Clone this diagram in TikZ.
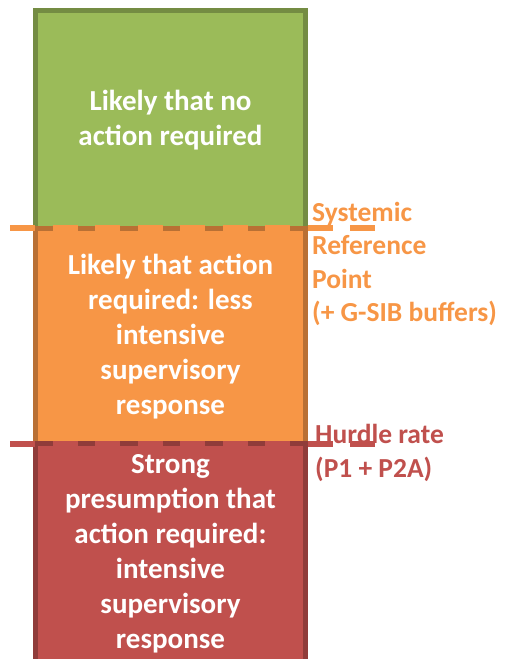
\documentclass[tikz,border=0pt]{standalone}
\usepackage{fontspec}
\setmainfont{Carlito}
\definecolor{greenfill}{HTML}{9BBB59}
\definecolor{greenedge}{HTML}{748C43}
\definecolor{orangefill}{HTML}{F79646}
\definecolor{orangeedge}{HTML}{B97034}
\definecolor{redfill}{HTML}{C0504D}
\definecolor{rededge}{HTML}{903C3A}
\tikzset{
  band/.style={line width=5pt},
  % multi-line nodes: the base anchor sits on the last line's baseline
  bandtext/.style={align=center, text=white, font=\fontsize{29}{35}\selectfont\bfseries, anchor=base, inner sep=0pt},
  sidetext/.style={align=left, font=\fontsize{27.5}{33.5}\selectfont\bfseries, anchor=base west, inner sep=0pt},
  threshold/.style={line width=6pt, dash pattern=on 25pt off 17.5pt},
}
\begin{document}
\begin{tikzpicture}[x=1pt,y=-1pt]
\useasboundingbox (0,0) rectangle (506,659);
% three stacked bands
\draw[band, fill=greenfill, draw=greenedge] (35.5,10.5) rectangle (305.5,228);
\draw[band, fill=orangefill, draw=orangeedge] (35.5,228) rectangle (305.5,443.5);
\draw[band, fill=redfill, draw=rededge] (35.5,443.5) rectangle (305.5,690);
% band texts
\node[bandtext] (tg) at (170.5,145) {Likely that no\\action required};
\node[bandtext] (to) at (170.5,414) {Likely that action\\required: less\\intensive\\supervisory\\response};
\node[bandtext] (tr) at (170.5,648) {Strong\\presumption that\\action required:\\intensive\\supervisory\\response};
% threshold lines
\coordinate (s1) at (10,227.5);
\coordinate (s2) at (375,227.5);
\coordinate (h1) at (10,444);
\coordinate (h2) at (375,444);
\draw[threshold, orangefill] (s1) -- (s2);
\draw[threshold, redfill] (h1) -- (h2);
% threshold labels
\node[sidetext, text=orangefill] (ls) at (312,321.5) {Systemic\\Reference\\Point\\(+ G-SIB buffers)};
\node[sidetext, text=redfill] (lh) at (315,477) {Hurdle rate\\(P1 + P2A)};
\end{tikzpicture}
\end{document}
